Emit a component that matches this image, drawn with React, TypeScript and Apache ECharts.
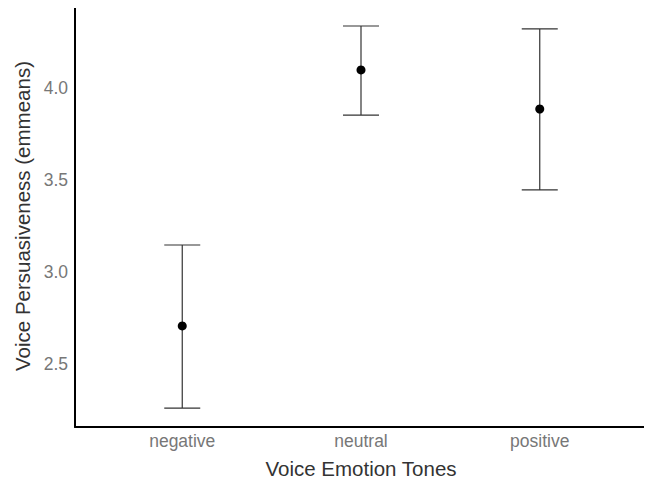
import React, { useEffect, useRef } from "react";
import * as echarts from "echarts";

const categories = ["negative", "neutral", "positive"];
const means = [2.707, 4.098, 3.886];
const lowers = [2.261, 3.853, 3.446];
const uppers = [3.147, 4.337, 4.321];
const yTicks = [2.5, 3.0, 3.5, 4.0];

export default function App() {
  const ref = useRef<HTMLDivElement>(null);
  useEffect(() => {
    const chart = echarts.init(ref.current!, null, { renderer: "svg" });
    const xs = categories.map((_, i) => i + 1);
    chart.setOption({
      animation: false,
      grid: { left: 75, right: 5, top: 5, bottom: 58, containLabel: false },
      xAxis: {
        type: "value",
        min: 0.4,
        max: 3.6,
        name: "Voice Emotion Tones",
        nameLocation: "middle",
        nameGap: 31,
        nameTextStyle: { color: "#333", fontSize: 20.5, fontFamily: "Liberation Sans" },
        axisLine: { show: true, onZero: false, lineStyle: { color: "#000", width: 2 } },
        axisTick: { show: false },
        splitLine: { show: false },
        axisLabel: {
          customValues: xs,
          formatter: (v: number) => categories[Math.round(v) - 1] ?? "",
          color: "#777",
          fontSize: 17.5,
          fontFamily: "Liberation Sans",
          margin: 5,
        },
      },
      yAxis: {
        type: "value",
        min: 2.158,
        max: 4.451,
        name: "Voice Persuasiveness (emmeans)",
        nameLocation: "middle",
        nameGap: 40,
        nameTextStyle: { color: "#333", fontSize: 20.5, fontFamily: "Liberation Sans" },
        axisLine: { show: true, lineStyle: { color: "#000", width: 2 } },
        axisTick: { show: false },
        splitLine: { show: false },
        axisLabel: {
          customValues: yTicks,
          formatter: (v: number) => v.toFixed(1),
          color: "#777",
          fontSize: 17.5,
          fontFamily: "Liberation Sans",
          margin: 7,
        },
      },
      series: [
        {
          type: "custom",
          data: xs.map((x, i) => [x, lowers[i], uppers[i]]),
          renderItem: (params: any, api: any) => {
            const x = api.value(0);
            const lo = api.coord([x, api.value(1)]);
            const hi = api.coord([x, api.value(2)]);
            const half = 18;
            const style = { stroke: "#333", lineWidth: 1.2 };
            return {
              type: "group",
              children: [
                { type: "line", shape: { x1: lo[0], y1: lo[1], x2: hi[0], y2: hi[1] }, style },
                { type: "line", shape: { x1: lo[0] - half, y1: lo[1], x2: lo[0] + half, y2: lo[1] }, style },
                { type: "line", shape: { x1: hi[0] - half, y1: hi[1], x2: hi[0] + half, y2: hi[1] }, style },
              ],
            };
          },
          z: 1,
        },
        {
          type: "scatter",
          data: xs.map((x, i) => [x, means[i]]),
          symbolSize: 9,
          itemStyle: { color: "#000", opacity: 1 },
          z: 2,
        },
      ],
    });
    return () => chart.dispose();
  }, []);
  return <div ref={ref} style={{ width: 652, height: 485, margin: -8 }} />;
}
